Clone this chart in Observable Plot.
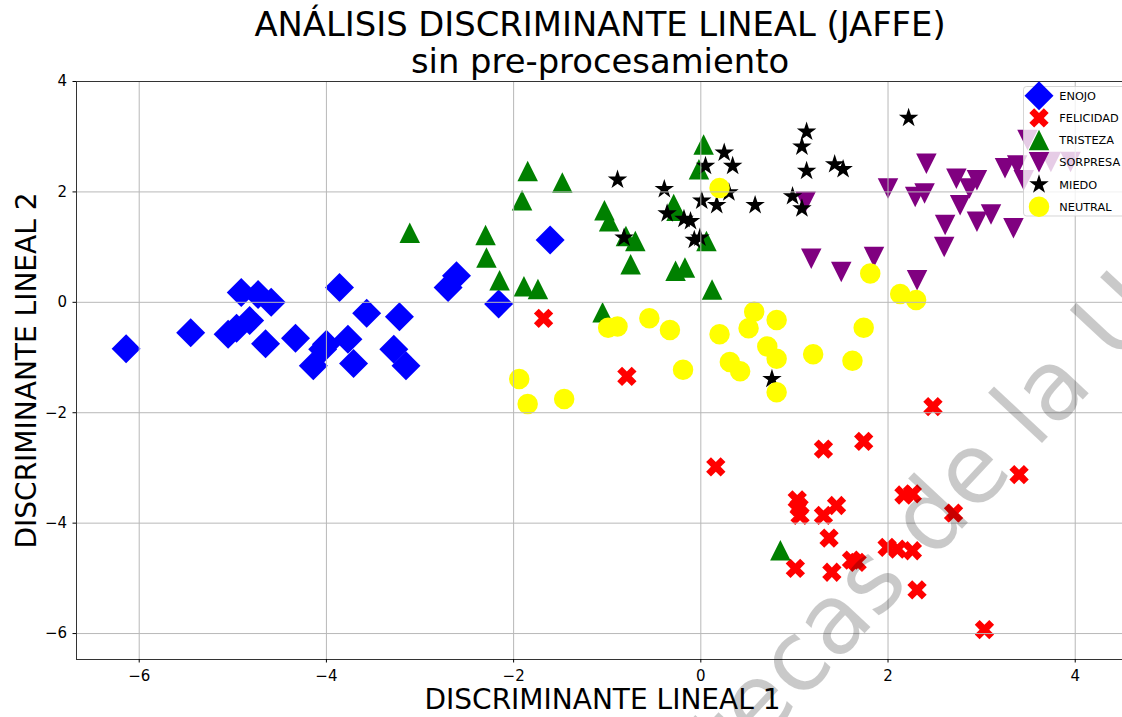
<!DOCTYPE html>
<html><head><meta charset="utf-8">
<script src="https://cdn.jsdelivr.net/npm/d3@7"></script>
<script src="https://cdn.jsdelivr.net/npm/@observablehq/plot@0.6"></script>
<style>
body{margin:0;background:#fff;font-family:"DejaVu Sans",sans-serif;}
#wrap{position:relative;width:1122px;height:717px;overflow:hidden;background:#fff;}
#title{position:absolute;left:0;top:6px;width:1200px;text-align:center;font-size:33.8px;line-height:37px;color:#000;white-space:nowrap;}
#chart{position:absolute;left:0;top:70px;}
</style></head><body>
<div id="wrap"><div id="title"></div><div id="chart"></div></div>
<script>
const titleLines = ["ANÁLISIS DISCRIMINANTE LINEAL (JAFFE)", "sin pre-procesamiento"];
const xLabel = "DISCRIMINANTE LINEAL 1";
const yLabel = "DISCRIMINANTE LINEAL 2";
const watermark = "tecas de la U";
const categories = ["ENOJO","FELICIDAD","TRISTEZA","SORPRESA","MIEDO","NEUTRAL"];
const colors = ["blue","red","green","purple","black","yellow"];
const xTicks = [-6,-4,-2,0,2,4];
const yTicks = [-6,-4,-2,0,2,4];
const xDomain = [-6.67, 4.505];
const yDomain = [-6.47, 4.0];

const enojo = [[-6.14,-0.84],[-5.45,-0.55],[-5.05,-0.58],[-4.96,-0.47],[-4.82,-0.33],[-4.91,0.18],[-4.73,0.14],[-4.59,0.0],[-4.65,-0.75],[-4.33,-0.65],[-4.0,-0.76],[-4.04,-0.85],[-4.14,-1.15],[-3.86,0.27],[-3.77,-0.67],[-3.71,-1.11],[-3.57,-0.2],[-3.22,-0.26],[-3.28,-0.85],[-3.15,-1.15],[-2.70,0.27],[-2.61,0.48],[-2.16,-0.03],[-1.61,1.13]];
const felicidad = [[-1.68,-0.29],[-0.79,-1.34],[0.16,-2.98],[1.31,-2.66],[1.74,-2.52],[2.48,-1.89],[3.40,-3.12],[1.03,-3.58],[1.05,-3.71],[1.06,-3.86],[1.31,-3.86],[1.45,-3.68],[1.37,-4.27],[1.01,-4.82],[1.40,-4.89],[1.61,-4.67],[1.67,-4.71],[1.99,-4.44],[2.10,-4.47],[2.26,-4.50],[2.17,-3.49],[2.26,-3.47],[2.70,-3.82],[2.31,-5.21],[3.03,-5.93]];
const tristeza = [[-3.11,1.26],[-2.30,1.22],[-2.29,0.81],[-2.15,0.40],[-1.89,0.29],[-1.74,0.24],[-1.85,2.38],[-1.48,2.17],[-1.91,1.85],[-1.03,1.67],[-0.98,1.47],[-0.29,1.78],[-0.26,1.66],[-0.80,1.20],[-0.70,1.11],[-0.75,0.69],[-0.27,0.57],[-0.17,0.63],[0.03,2.86],[-0.02,2.41],[0.06,1.11],[0.12,0.23],[-1.05,-0.18],[0.85,-4.49]];
const sorpresa = [[1.12,1.82],[1.18,0.79],[1.50,0.55],[1.85,0.82],[2.31,0.40],[2.0,2.06],[2.29,1.91],[2.39,1.97],[2.41,2.51],[2.61,1.40],[2.60,1.0],[2.73,2.24],[2.77,1.76],[2.87,2.06],[2.95,2.21],[2.95,1.46],[3.10,1.59],[3.34,1.34],[3.25,2.43],[3.38,2.48],[3.45,2.21],[3.49,2.94],[3.74,2.54],[3.95,2.54]];
const miedo = [[-0.89,2.22],[-0.39,2.05],[-0.36,1.61],[-0.18,1.51],[-0.11,1.47],[-0.82,1.17],[-0.07,1.13],[-0.01,1.17],[0.01,1.84],[0.17,1.76],[0.05,2.47],[0.25,2.71],[0.34,2.47],[0.30,1.99],[0.58,1.76],[1.13,3.09],[1.08,2.82],[1.13,2.38],[1.43,2.50],[1.52,2.41],[0.98,1.92],[1.08,1.70],[2.22,3.34],[0.76,-1.39]];
const neutral = [[-1.94,-1.39],[-1.85,-1.84],[-1.46,-1.75],[-0.99,-0.46],[-0.89,-0.44],[-0.55,-0.29],[-0.33,-0.50],[-0.19,-1.22],[0.20,-0.58],[0.31,-1.08],[0.42,-1.25],[0.51,-0.47],[0.57,-0.17],[0.81,-0.32],[0.71,-0.80],[0.81,-1.02],[0.81,-1.63],[1.20,-0.94],[1.62,-1.06],[1.74,-0.46],[1.81,0.52],[2.13,0.15],[2.30,0.04],[0.20,2.07]];
const series = [enojo, felicidad, tristeza, sorpresa, miedo, neutral];

// matplotlib-like marker shapes (h = half marker size)
function sym(fn){ return {draw(c, size){ const h = Math.sqrt(size/Math.PI); fn(c, h); }}; }
const diamondSym = sym((c,h)=>{const d=h*Math.SQRT2; c.moveTo(0,-d); c.lineTo(d,0); c.lineTo(0,d); c.lineTo(-d,0); c.closePath();});
const xSym = sym((c,h)=>{const pts=[[-1,-3],[-1,-1],[-3,-1],[-3,1],[-1,1],[-1,3],[1,3],[1,1],[3,1],[3,-1],[1,-1],[1,-3]]; const k=h/3, co=Math.SQRT1_2, si=Math.SQRT1_2; pts.forEach(([x,y],i)=>{const X=(x*co-y*si)*k, Y=(x*si+y*co)*k; if(i) c.lineTo(X,Y); else c.moveTo(X,Y);}); c.closePath();});
const triUpSym = sym((c,h)=>{c.moveTo(0,-h); c.lineTo(-h,h); c.lineTo(h,h); c.closePath();});
const triDownSym = sym((c,h)=>{c.moveTo(0,h); c.lineTo(-h,-h); c.lineTo(h,-h); c.closePath();});
const starSym = sym((c,h)=>{for(let i=0;i<10;i++){const r=i%2?0.381966*h:h; const a=-Math.PI/2+i*Math.PI/5; const X=r*Math.cos(a), Y=r*Math.sin(a); if(i) c.lineTo(X,Y); else c.moveTo(X,Y);} c.closePath();});
const circleSym = sym((c,h)=>{c.moveTo(h,0); c.arc(0,0,h,0,2*Math.PI); c.closePath();});
const symbolsByClass = [diamondSym, xSym, triUpSym, triDownSym, starSym, circleSym];
const R = 10.25;

const fmt = d => d < 0 ? "\u2212" + Math.abs(d) : String(d);

document.getElementById("title").innerHTML = titleLines.join("<br>");

const dotMarks = series.map((pts, i) => Plot.dot(pts, {x: d => d[0], y: d => d[1], fill: colors[i], symbol: symbolsByClass[i], r: R}));

const plot = Plot.plot({
  width: 1122, height: 647,
  marginLeft: 76, marginRight: 0, marginTop: 11, marginBottom: 58,
  style: {fontFamily: "DejaVu Sans", fontSize: "15px", background: "transparent", color: "#000"},
  x: {domain: xDomain},
  y: {domain: yDomain},
  marks: [
    ...dotMarks,
    Plot.gridX(xTicks, {stroke: "#b8b8b8", strokeOpacity: 1, strokeWidth: 1}),
    Plot.gridY(yTicks, {stroke: "#b8b8b8", strokeOpacity: 1, strokeWidth: 1}),
    Plot.ruleX([xDomain[0]], {stroke: "#333", strokeWidth: 1}),
    Plot.ruleY([yDomain[0]], {stroke: "#333", strokeWidth: 1}),
    Plot.ruleY([yDomain[1]], {stroke: "#333", strokeWidth: 1}),
    Plot.axisX({ticks: xTicks, tickSize: 3.5, tickPadding: 7, tickFormat: fmt, fontSize: 15, label: null}),
    Plot.axisY({ticks: yTicks, tickSize: 3.5, tickPadding: 6, tickFormat: fmt, fontSize: 15, label: null}),
    Plot.text([xLabel], {text: d => d, frameAnchor: "bottom", dy: 49, dx: 3, lineAnchor: "bottom", textAnchor: "middle", fontSize: 28}),
    Plot.text([yLabel], {text: d => d, frameAnchor: "left", dx: -41, rotate: -90, lineAnchor: "bottom", textAnchor: "middle", fontSize: 28})
  ]
});
document.getElementById("chart").appendChild(plot);

// legend (top-right, semi-transparent like matplotlib)
const svg = d3.select(plot);
const offY = 70;
const lg = svg.append("g").attr("class", "legend").attr("text-anchor", "start");
lg.append("rect").attr("x", 1023.5).attr("y", 86.5 - offY).attr("width", 130).attr("height", 129.5)
  .attr("rx", 3).attr("fill", "#fff").attr("fill-opacity", 0.8).attr("stroke", "#ccc").attr("stroke-opacity", 0.8);
categories.forEach((name, i) => {
  const cy = 95.7 + i * 22.2 - offY;
  lg.append("path").attr("transform", `translate(1039,${cy})`)
    .attr("d", d3.symbol(symbolsByClass[i], Math.PI * R * R)()).attr("fill", colors[i]);
  lg.append("text").attr("x", 1059.3).attr("y", cy + 4.1).attr("font-size", 11.3)
    .attr("text-anchor", "start").attr("font-family", "DejaVu Sans").attr("fill", "#000").text(name);
});

// watermark
const F = 97;
svg.append("text").attr("transform", `translate(1045,${440 - offY}) rotate(-47)`)
  .attr("x", -4.716 * F).attr("y", 0).attr("font-size", F).attr("font-family", "DejaVu Sans")
  .attr("text-anchor", "start").attr("fill", "#000").attr("fill-opacity", 0.21).text(watermark);
</script>
</body></html>
